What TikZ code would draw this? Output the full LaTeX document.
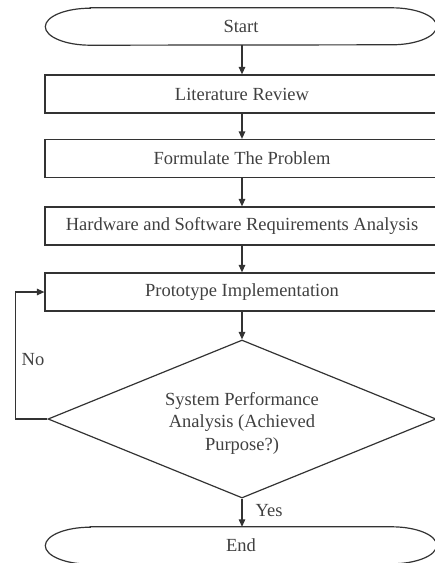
\documentclass[tikz,border=0pt]{standalone}
\usepackage{fontspec}
\setmainfont{Liberation Serif}
\usetikzlibrary{shapes.geometric,arrows.meta}
\begin{document}
\begin{tikzpicture}[x=1pt,y=1pt,
  line/.style={line width=1.2pt, draw=black!80},
  txt/.style={text=black!75, font=\fontsize{18.5}{22.5}\selectfont},
  box/.style={rectangle, line, txt, minimum width=394pt, minimum height=38pt, inner sep=0pt},
  term/.style={txt, minimum width=391pt, minimum height=37pt, inner sep=0pt},
  dec/.style={diamond, line, aspect=2.45, minimum width=388pt, minimum height=158pt, inner sep=0pt},
  arr/.style={line, -{Triangle[length=7.5pt,width=6.5pt]}},
  lbl/.style={txt, inner sep=0pt}
]
\useasboundingbox (0,0) rectangle (435,-563);
\clip (0,0) rectangle (435,-563);

\node[term] (start) at (241,-26.5) {Start};
\draw[line] ([xshift=45pt]start.north west) -- ([xshift=-45pt]start.north east)
  arc[start angle=90,end angle=-90,x radius=45pt,y radius=18.5pt]
  -- ([xshift=45pt]start.south west)
  arc[start angle=270,end angle=90,x radius=45pt,y radius=18.5pt] -- cycle;

\node[box] (lit) at (242,-94) {Literature Review};
\node[box] (form) at (242,-158.5) {Formulate The Problem};
\node[box] (hw) at (242,-226) {Hardware and Software Requirements Analysis};
\node[box] (proto) at (242,-292) {Prototype Implementation};
\node[dec] (dec) at (242,-419) {};
\node[lbl, align=center] (dectext) at ([yshift=-4pt]dec.center) {System Performance\\Analysis (Achieved\\Purpose?)};

\node[term] (end) at (241,-545.5) {End};
\draw[line] ([xshift=45pt]end.north west) -- ([xshift=-45pt]end.north east)
  arc[start angle=90,end angle=-90,x radius=45pt,y radius=18.5pt]
  -- ([xshift=45pt]end.south west)
  arc[start angle=270,end angle=90,x radius=45pt,y radius=18.5pt] -- cycle;

\draw[arr] (lit.north |- start.south) -- (lit.north);
\draw[arr] (lit) -- (form);
\draw[arr] (form) -- (hw);
\draw[arr] (hw) -- (proto);
\draw[arr] (proto) -- (dec);
\draw[arr] (dec.south) -- (dec.south |- end.north);
\draw[arr] (dec.west) -- ++(-32,0) |- (proto.west);

\node[lbl] (yes) at (269,-511) {Yes};
\node[lbl] (no) at (33,-360) {No};
\end{tikzpicture}
\end{document}
